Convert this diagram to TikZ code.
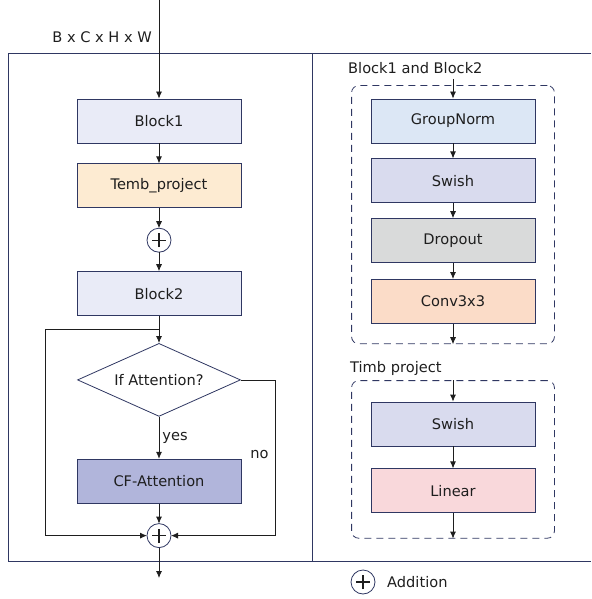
\documentclass[tikz,border=0pt]{standalone}
\usepackage{fontspec}
\setmainfont{DejaVu Sans}
\usetikzlibrary{arrows.meta,positioning,shapes.geometric,fit,calc}

\definecolor{edge}{HTML}{2F3762}
\definecolor{ink}{HTML}{1E1E1E}
\definecolor{blockfill}{HTML}{E9EBF7}
\definecolor{tembfill}{HTML}{FDEBD2}
\definecolor{attnfill}{HTML}{B1B5DB}
\definecolor{normfill}{HTML}{DCE7F5}
\definecolor{swishfill}{HTML}{D9DBEE}
\definecolor{dropfill}{HTML}{D9DADA}
\definecolor{convfill}{HTML}{FBDCC8}
\definecolor{linfill}{HTML}{F9D8DB}

\begin{document}
\begin{tikzpicture}[
x=1pt, y=-1pt,
font=\fontsize{14.6pt}{17pt}\selectfont, text=ink,
node distance=20pt and 20pt,
layer/.style={draw=edge, line width=0.8pt, minimum width=164pt, minimum height=44pt, inner sep=2pt},
decide/.style={diamond, draw=edge, line width=0.8pt, fill=white, minimum width=163pt, minimum height=73pt, aspect=2.2, inner sep=1pt},
addnode/.style={circle, draw=edge, line width=0.8pt, fill=white, minimum size=24pt, inner sep=0pt, outer sep=0pt,
  path picture={\draw[ink, line width=1.3pt] ([xshift=-7pt]path picture bounding box.center) -- ([xshift=7pt]path picture bounding box.center);
  \draw[ink, line width=1.3pt] ([yshift=-7pt]path picture bounding box.center) -- ([yshift=7pt]path picture bounding box.center);}},
groupbox/.style={draw=edge, line width=0.8pt, dash pattern=on 7pt off 5pt, rounded corners=7pt, inner xsep=19pt, inner ysep=0pt},
frame/.style={draw=edge, line width=0.8pt},
arrow/.style={-{Latex[length=7pt,width=6pt]}, line width=0.8pt, draw=ink}
]
\useasboundingbox (0,0) rectangle (591,599);

\draw[frame] (591,53) -- (8,53) -- (8,561) -- (591,561);
\draw[frame] (312,53) -- (312,561);

\coordinate (in) at (159,0);
\node[anchor=east, inner sep=0pt] (shape) at (152,37) {B x C x H x W};

\node[layer, fill=blockfill] (blockone) at (159,121) {Block1};
\node[layer, fill=tembfill, below=of blockone] (temb) {Temb\_project};
\node[addnode, below=of temb] (addone) {};
\node[layer, fill=blockfill, below=19pt of addone] (blocktwo) {Block2};
\node[decide, below=27pt of blocktwo] (cond) {If Attention?};
\node[layer, fill=attnfill, below=42pt of cond] (attn) {CF-Attention};
\node[addnode, below=of attn] (addtwo) {};
\coordinate (out) at (159,578);
\coordinate (split) at ($(blocktwo.south)!0.5!(cond.north)$);

\draw[arrow] (in) -- (blockone);
\draw[arrow] (blockone) -- (temb);
\draw[arrow] (temb) -- (addone);
\draw[arrow] (addone) -- (blocktwo);
\draw[arrow] (blocktwo) -- (cond);
\draw[arrow] (cond) -- node[right, inner sep=3pt] {yes} (attn);
\draw[arrow] (attn) -- (addtwo);
\draw[arrow] (split) -- ++(-114,0) |- (addtwo.west);
\draw[arrow] (cond.east) -- ++(34,0) |- node[pos=0.24, left, inner sep=6pt] {no} (addtwo.east);
\draw[arrow] (addtwo) -- (out);

\node[layer, fill=normfill] (norm) at (453,121) {GroupNorm};
\node[layer, fill=swishfill, below=15pt of norm] (swish) {Swish};
\node[layer, fill=dropfill, below=15pt of swish] (drop) {Dropout};
\node[layer, fill=convfill, below=16pt of drop] (conv) {Conv3x3};
\node[groupbox, fit={([yshift=13pt]norm.north) ([yshift=-20pt]conv.south) (norm.west) (norm.east)}] (blockbox) {};
\node[anchor=west, inner sep=0pt] (blocklabel) at (348,68) {Block1 and Block2};
\coordinate (blockin) at (453,79);

\draw[arrow] (blockin) -- (norm);
\draw[arrow] (norm) -- (swish);
\draw[arrow] (swish) -- (drop);
\draw[arrow] (drop) -- (conv);
\draw[arrow] (conv) -- (blockbox.south);

\node[layer, fill=swishfill] (swishtwo) at (453,424) {Swish};
\node[layer, fill=linfill, below=22pt of swishtwo] (linear) {Linear};
\node[groupbox, fit={([yshift=21pt]swishtwo.north) ([yshift=-25pt]linear.south) (swishtwo.west) (swishtwo.east)}] (tembbox) {};
\node[anchor=west, inner sep=0pt] (temblabel) at (350,368) {Timb project};

\draw[arrow] (tembbox.north) -- (swishtwo);
\draw[arrow] (swishtwo) -- (linear);
\draw[arrow] (linear) -- (tembbox.south);

\node[addnode] (legadd) at (363,582) {};
\node[right=12pt of legadd, inner sep=0pt] (leglabel) {Addition};
\end{tikzpicture}
\end{document}
